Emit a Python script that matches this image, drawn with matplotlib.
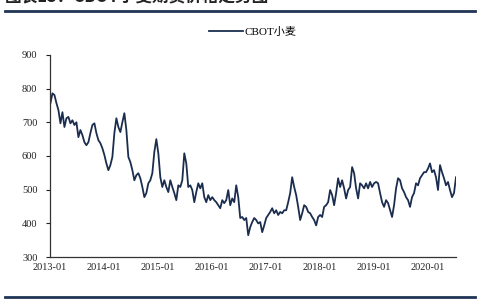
import matplotlib
matplotlib.use("Agg")
import matplotlib.pyplot as plt
import matplotlib.dates as mdates
from matplotlib.lines import Line2D
import pandas as pd

# CBOT wheat price (roughly every two weeks)
wheat = [757, 786, 781, 757, 736, 697, 730, 686, 712, 716, 697, 706, 692, 700, 656, 677,
         662, 641, 632, 641, 668, 692, 697, 668, 647, 638, 623, 603, 578, 558, 573, 597,
         668, 712, 686, 671, 700, 727, 677, 597, 582, 558, 528, 543, 549, 534, 508, 478,
         490, 519, 528, 549, 612, 650, 608, 537, 508, 528, 508, 493, 528, 508, 490, 469,
         513, 508, 528, 608, 578, 508, 513, 499, 463, 493, 519, 504, 519, 478, 463, 484,
         469, 478, 469, 463, 454, 445, 469, 460, 469, 499, 454, 474, 463, 513, 478, 416,
         419, 410, 416, 365, 389, 404, 416, 410, 400, 404, 374, 394, 416, 425, 434, 445,
         430, 439, 425, 434, 430, 439, 439, 463, 490, 537, 508, 484, 449, 410, 430, 454,
         449, 434, 430, 419, 410, 394, 419, 425, 419, 449, 454, 463, 499, 484, 454, 490,
         534, 508, 528, 504, 474, 499, 508, 567, 549, 504, 474, 519, 513, 504, 519, 504,
         523, 508, 519, 523, 519, 490, 463, 449, 469, 460, 439, 419, 454, 504, 534, 528,
         504, 493, 478, 469, 449, 478, 490, 519, 513, 534, 543, 552, 552, 563, 578, 552,
         558, 537, 499, 573, 552, 534, 513, 523, 499, 478, 490, 537]
dates = pd.date_range("2013-01-04", "2020-07-10", periods=len(wheat))

years = [str(y) + "-01" for y in range(2013, 2021)]
yticks = [300, 400, 500, 600, 700, 800, 900]

navy = "#1b2d4f"
serif = ["Liberation Serif", "Noto Sans CJK SC"]

fig = plt.figure(figsize=(5, 3), dpi=100)
fig.patch.set_facecolor("white")
ax = fig.add_axes([0.1, 0.143, 0.812, 0.674])

ax.plot(dates, wheat, color=navy, lw=1.3)

ax.set_ylim(300, 900)
ax.set_yticks(yticks)
ax.set_xlim(pd.Timestamp("2013-01-01"), pd.Timestamp("2020-07-10"))
ax.set_xticks([pd.Timestamp(y) for y in years])
ax.xaxis.set_major_formatter(mdates.DateFormatter("%Y-%m"))

for s in ["top", "right"]:
    ax.spines[s].set_visible(False)
for s in ["left", "bottom"]:
    ax.spines[s].set_color("#333333")
    ax.spines[s].set_linewidth(0.9)

ax.tick_params(axis="y", length=3, width=0.8, pad=6, labelsize=7.5, colors="#222222")
ax.tick_params(axis="x", length=0, pad=4, labelsize=7.5, colors="#222222")
for lab in ax.get_xticklabels() + ax.get_yticklabels():
    lab.set_family(serif)

leg = ax.legend([Line2D([0], [0], color=navy, lw=1.3)], ["CBOT小麦"],
                loc="lower center", bbox_to_anchor=(0.5, 1.04), frameon=False,
                handlelength=3.0, handletextpad=0.2,
                prop={"family": serif, "size": 8})

# cut-off report title and rules, as in the source page
fig.text(0.01, 0.978, "图表13：CBOT小麦期货价格走势图", fontsize=12, fontweight="bold",
         family=["Noto Sans CJK SC", "DejaVu Sans"], color="#222222", va="bottom")
fig.add_artist(Line2D([0.01, 0.95], [0.963, 0.963], color="#1f3556", lw=2.0))
fig.add_artist(Line2D([0.01, 0.95], [0.01, 0.01], color="#1f3556", lw=2.0))

fig.savefig("out.png", dpi=100, facecolor="white")
